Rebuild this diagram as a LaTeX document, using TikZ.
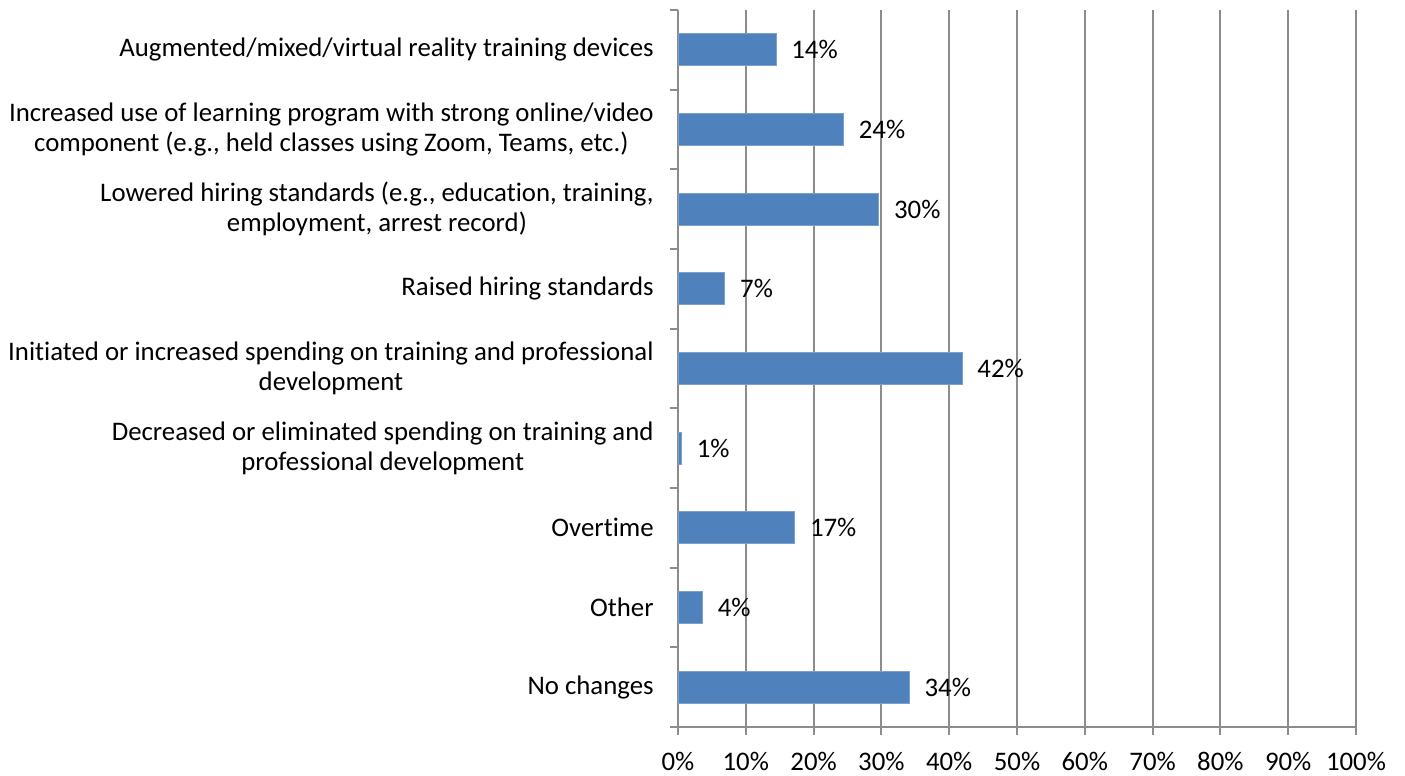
\documentclass[tikz,border=0pt]{standalone}
\usepackage{fontspec}
\setmainfont[Ligatures=NoCommon]{Carlito}
\usetikzlibrary{positioning}
\definecolor{barblue}{HTML}{4F81BD}
\definecolor{gridgray}{HTML}{8C8C8C}
\tikzstyle{every node}=[font=\fontsize{13.4}{15}\selectfont, inner sep=0pt]
\tikzstyle{catlabel} = [anchor=east, align=center]
\tikzstyle{vallabel} = [anchor=west]
\tikzstyle{ticklabel} = [anchor=center]
\tikzstyle{bar} = [fill=barblue, draw=barblue!75!white, line width=0.4pt]
\tikzstyle{gridline} = [draw=gridgray, line width=1pt]

\begin{document}
\begin{tikzpicture}[x=0.5pt, y=-0.5pt]
            \useasboundingbox (0,0) rectangle (1405,776);
            % grid and x ticks
            \foreach \p in {0,10,...,100} {
              \draw [gridline] ({678+6.78*\p},10) -- ({678+6.78*\p},735);
              \node (tick\p) [ticklabel] at ({678+6.78*\p},761) {\p\%};
            }
            \draw [gridline] (678,727) -- (1356,727);
            \foreach \i in {0,...,9}
              \draw [gridline] (670,{10+79.67*\i}) -- (678,{10+79.67*\i});
            % bars
            \foreach \v/\t [count=\i from 0] in {14.45/14, 24.4/24, 29.6/30, 6.9/7, 41.9/42, 0.5/1, 17.2/17, 3.6/4, 34.1/34} {
              \filldraw [bar] (678,{10+79.67*(\i+0.5)-16}) rectangle ({678+6.78*\v},{10+79.67*(\i+0.5)+16});
              \node (val\i) [vallabel] at ({678+6.78*\v+15},{10+79.67*(\i+0.5)}) {\t\%};
            }
            % categories
            \node (cat1) [catlabel] at (654,49.8) {Augmented/mixed/virtual reality training devices};
            \node (cat2) [catlabel] at (654,129.5) {Increased use of learning program with strong online/video\\component (e.g., held classes using Zoom, Teams, etc.)};
            \node (cat3) [catlabel] at (654,209.2) {Lowered hiring standards (e.g., education, training,\\employment, arrest record)};
            \node (cat4) [catlabel] at (654,288.8) {Raised hiring standards};
            \node (cat5) [catlabel] at (654,368.5) {Initiated or increased spending on training and professional\\development};
            \node (cat6) [catlabel] at (654,448.2) {Decreased or eliminated spending on training and\\professional development};
            \node (cat7) [catlabel] at (654,527.8) {Overtime};
            \node (cat8) [catlabel] at (654,607.5) {Other};
            \node (cat9) [catlabel] at (654,687.2) {No changes};
          \end{tikzpicture}
\end{document}
